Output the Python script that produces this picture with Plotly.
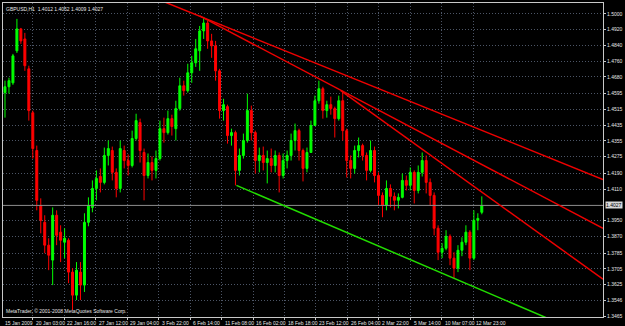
import plotly.graph_objects as go

# ---- data (GBPUSD H1, aggregated bars) ----
opens = [1.4600, 1.4630, 1.4650, 1.4813, 1.4924, 1.4873, 1.4721, 1.4498, 1.4306, 1.4027,
         1.3941, 1.3825, 1.3749, 1.3977, 1.3891, 1.3840, 1.3850, 1.3688, 1.3571, 1.3688,
         1.3622, 1.3941, 1.4017, 1.4113, 1.4174, 1.4144, 1.4281, 1.4306, 1.4195, 1.4113,
         1.4306, 1.4255, 1.4230, 1.4367, 1.4448, 1.4296, 1.4179, 1.4245, 1.4205, 1.4265,
         1.4417, 1.4397, 1.4468, 1.4417, 1.4519, 1.4635, 1.4610, 1.4701, 1.4752, 1.4813,
         1.4914, 1.4954, 1.4863, 1.4838, 1.4711, 1.4509, 1.4529, 1.4382, 1.4397, 1.4205,
         1.4281, 1.4357, 1.4509, 1.4397, 1.4255, 1.4281, 1.4245, 1.4265, 1.4230, 1.4281,
         1.4179, 1.4255, 1.4281, 1.4357, 1.4407, 1.4306, 1.4215, 1.4296, 1.4433, 1.4559,
         1.4620, 1.4509, 1.4539, 1.4519, 1.4468, 1.4559, 1.4407, 1.4255, 1.4215, 1.4306,
         1.4331, 1.4281, 1.4205, 1.4306, 1.4179, 1.4078, 1.4027, 1.4113, 1.4073, 1.4053,
         1.4068, 1.4154, 1.4129, 1.4195, 1.4103, 1.4195, 1.4255, 1.4144, 1.4078, 1.3911,
         1.3789, 1.3809, 1.3870, 1.3759, 1.3708, 1.3799, 1.3840, 1.3891, 1.3759, 1.3951,
         1.3992]
highs = [1.4661, 1.4676, 1.4797, 1.4975, 1.4929, 1.4904, 1.4737, 1.4509, 1.4331, 1.4063,
         1.3977, 1.3860, 1.4017, 1.4002, 1.3926, 1.3911, 1.3860, 1.3708, 1.3739, 1.3739,
         1.3987, 1.4068, 1.4154, 1.4205, 1.4215, 1.4321, 1.4357, 1.4326, 1.4215, 1.4357,
         1.4331, 1.4286, 1.4407, 1.4493, 1.4468, 1.4316, 1.4291, 1.4276, 1.4306, 1.4458,
         1.4473, 1.4509, 1.4488, 1.4559, 1.4676, 1.4661, 1.4747, 1.4787, 1.4873, 1.4939,
         1.4985, 1.4965, 1.4899, 1.4863, 1.4721, 1.4569, 1.4539, 1.4417, 1.4407, 1.4316,
         1.4392, 1.4595, 1.4534, 1.4407, 1.4321, 1.4326, 1.4306, 1.4316, 1.4306, 1.4296,
         1.4291, 1.4306, 1.4392, 1.4443, 1.4417, 1.4316, 1.4321, 1.4458, 1.4585, 1.4661,
         1.4630, 1.4559, 1.4580, 1.4529, 1.4585, 1.4610, 1.4417, 1.4281, 1.4331, 1.4372,
         1.4341, 1.4296, 1.4357, 1.4326, 1.4195, 1.4093, 1.4154, 1.4134, 1.4093, 1.4088,
         1.4189, 1.4179, 1.4220, 1.4205, 1.4230, 1.4296, 1.4281, 1.4164, 1.4093, 1.3926,
         1.3835, 1.3901, 1.3880, 1.3789, 1.3825, 1.3865, 1.3926, 1.3901, 1.4002, 1.3987,
         1.4073]
lows = [1.4473, 1.4595, 1.4640, 1.4802, 1.4848, 1.4711, 1.4458, 1.4265, 1.4002, 1.3885,
        1.3784, 1.3698, 1.3622, 1.3825, 1.3739, 1.3759, 1.3632, 1.3495, 1.3546, 1.3546,
        1.3587, 1.3921, 1.3992, 1.4053, 1.4093, 1.4134, 1.4230, 1.4154, 1.4068, 1.4093,
        1.4215, 1.4179, 1.4220, 1.4357, 1.4245, 1.4053, 1.4164, 1.4154, 1.4164, 1.4255,
        1.4346, 1.4387, 1.4382, 1.4357, 1.4509, 1.4585, 1.4600, 1.4650, 1.4731, 1.4711,
        1.4873, 1.4823, 1.4777, 1.4661, 1.4468, 1.4458, 1.4341, 1.4331, 1.4129, 1.4179,
        1.4265, 1.4346, 1.4357, 1.4189, 1.4195, 1.4205, 1.4139, 1.4195, 1.4195, 1.4093,
        1.4164, 1.4215, 1.4255, 1.4306, 1.4255, 1.4149, 1.4195, 1.4296, 1.4433, 1.4544,
        1.4468, 1.4473, 1.4488, 1.4372, 1.4458, 1.4357, 1.4169, 1.4164, 1.4189, 1.4271,
        1.4255, 1.4154, 1.4195, 1.4144, 1.4027, 1.3967, 1.4002, 1.4017, 1.4002, 1.4012,
        1.4063, 1.4103, 1.4103, 1.4037, 1.4088, 1.4174, 1.4088, 1.4027, 1.3875, 1.3749,
        1.3759, 1.3799, 1.3723, 1.3658, 1.3688, 1.3769, 1.3825, 1.3698, 1.3749, 1.3901,
        1.3982]
closes = [1.4630, 1.4661, 1.4787, 1.4924, 1.4863, 1.4737, 1.4509, 1.4316, 1.4053, 1.3951,
          1.3825, 1.3774, 1.3977, 1.3875, 1.3850, 1.3860, 1.3688, 1.3571, 1.3698, 1.3622,
          1.3941, 1.4027, 1.4113, 1.4164, 1.4144, 1.4281, 1.4316, 1.4195, 1.4113, 1.4316,
          1.4255, 1.4230, 1.4367, 1.4458, 1.4306, 1.4179, 1.4245, 1.4205, 1.4265, 1.4417,
          1.4397, 1.4468, 1.4428, 1.4519, 1.4635, 1.4610, 1.4701, 1.4752, 1.4823, 1.4914,
          1.4954, 1.4863, 1.4838, 1.4711, 1.4509, 1.4539, 1.4382, 1.4397, 1.4205, 1.4281,
          1.4357, 1.4509, 1.4397, 1.4255, 1.4281, 1.4245, 1.4265, 1.4230, 1.4281, 1.4179,
          1.4255, 1.4281, 1.4357, 1.4407, 1.4306, 1.4215, 1.4296, 1.4433, 1.4559, 1.4620,
          1.4509, 1.4539, 1.4519, 1.4468, 1.4559, 1.4407, 1.4255, 1.4215, 1.4306, 1.4331,
          1.4281, 1.4205, 1.4306, 1.4179, 1.4078, 1.4027, 1.4113, 1.4073, 1.4053, 1.4068,
          1.4154, 1.4129, 1.4195, 1.4103, 1.4195, 1.4255, 1.4144, 1.4078, 1.3911, 1.3789,
          1.3809, 1.3870, 1.3759, 1.3708, 1.3799, 1.3840, 1.3891, 1.3759, 1.3951, 1.3961,
          1.4027]
bars = list(range(len(opens)))

time_labels = ["15 Jan 2009", "20 Jan 03:00", "22 Jan 16:00", "27 Jan 12:00", "29 Jan 04:00",
               "3 Feb 22:00", "6 Feb 14:00", "11 Feb 08:00", "16 Feb 02:00", "18 Feb 18:00",
               "23 Feb 12:00", "26 Feb 04:00", "2 Mar 22:00", "5 Mar 14:00", "10 Mar 07:00",
               "12 Mar 23:00"]
price_labels = ["1.5000", "1.4920", "1.4840", "1.4760", "1.4680", "1.4595", "1.4515",
                "1.4435", "1.4355", "1.4275", "1.4190", "1.4110", "1.3950", "1.3870",
                "1.3785", "1.3705", "1.3625", "1.3546", "1.3465"]
header_text = "GBPUSD,H1  1.4012 1.4052 1.4009 1.4027"
copyright_text = "MetaTrader, \u00a9 2001-2008 MetaQuotes Software Corp."
last_price = 1.4027

# trend lines (bar index, price)
red1_x, red1_y = [35, 150.5], [1.5103, 1.4159]
red2_x, red2_y = [49, 150.5], [1.4990, 1.3911]
red3_x, red3_y = [84.5, 150.5], [1.4610, 1.3652]
green_x, green_y = [58.25, 150.5], [1.4129, 1.3333]

# ---- figure ----
X_RANGE = [-0.5, 150.5]
Y_RANGE = [1.34599, 1.50557]
BAR_STEP = 7.9175           # bars between time labels
grid_x = [-0.9175 + BAR_STEP * k for k in range(1, len(time_labels))]
label_x = [-0.45] + [g + 0.3 for g in grid_x]

GRID = "#4c5566"
TXT = "#e6e6e6"
FONT = "Liberation Sans, Arial, sans-serif"

fig = go.Figure()
fig.add_trace(go.Candlestick(
    x=bars, open=opens, high=highs, low=lows, close=closes,
    increasing=dict(line=dict(color="#00ff00", width=1), fillcolor="#00ff00"),
    decreasing=dict(line=dict(color="#ff0000", width=1), fillcolor="#ff0000"),
    whiskerwidth=0, showlegend=False, hoverinfo="skip"))

# current bid line
fig.add_trace(go.Scatter(x=X_RANGE, y=[last_price, last_price], mode="lines",
                         line=dict(color="#8c8c8c", width=1), showlegend=False, hoverinfo="skip"))

for lx, ly, col in [(red1_x, red1_y, "#ee0000"), (red2_x, red2_y, "#ee0000"),
                    (red3_x, red3_y, "#ee0000"), (green_x, green_y, "#22dd00")]:
    fig.add_trace(go.Scatter(x=lx, y=ly, mode="lines", line=dict(color=col, width=1.5),
                             showlegend=False, hoverinfo="skip"))

annotations = []
for lx, txt in zip(label_x, time_labels):
    annotations.append(dict(x=lx, y=0, xref="x", yref="paper", text=txt, showarrow=False,
                            xanchor="left", yanchor="top", yshift=-1,
                            font=dict(size=5, color=TXT, family=FONT)))
annotations.append(dict(x=0, y=1, xref="paper", yref="paper", text=header_text, showarrow=False,
                        xanchor="left", yanchor="top", xshift=1, yshift=-1,
                        font=dict(size=5, color=TXT, family=FONT)))
annotations.append(dict(x=0, y=0, xref="paper", yref="paper", text=copyright_text, showarrow=False,
                        xanchor="left", yanchor="bottom", xshift=1, yshift=1,
                        font=dict(size=5, color=TXT, family=FONT)))
annotations.append(dict(x=1, y=last_price, xref="paper", yref="y", text=str(last_price),
                        showarrow=False, xanchor="left", yanchor="middle", xshift=2,
                        bgcolor="#d8d8d8", borderpad=0,
                        font=dict(size=5, color="#000000", family=FONT)))

fig.update_layout(
    width=625, height=326, autosize=False,
    margin=dict(l=2, r=19, t=2, b=9),
    paper_bgcolor="#000000", plot_bgcolor="#000000",
    annotations=annotations,
    xaxis=dict(range=X_RANGE, rangeslider=dict(visible=False), tickvals=grid_x,
               showticklabels=False, showgrid=True, gridcolor=GRID, griddash="1px,2px",
               gridwidth=1, zeroline=False, showline=True, linecolor="#c8c8c8", linewidth=1,
               mirror=True, ticks="outside", ticklen=2, tickcolor="#c8c8c8"),
    yaxis=dict(range=Y_RANGE, side="right", tickvals=[float(t) for t in price_labels],
               ticktext=price_labels, showgrid=True, gridcolor=GRID, griddash="1px,2px",
               gridwidth=1, zeroline=False, showline=True, linecolor="#c8c8c8", linewidth=1,
               mirror=True, ticks="outside", ticklen=2, tickcolor="#c8c8c8",
               tickfont=dict(size=5, color=TXT, family=FONT)),
)

fig.write_html("out.html")
